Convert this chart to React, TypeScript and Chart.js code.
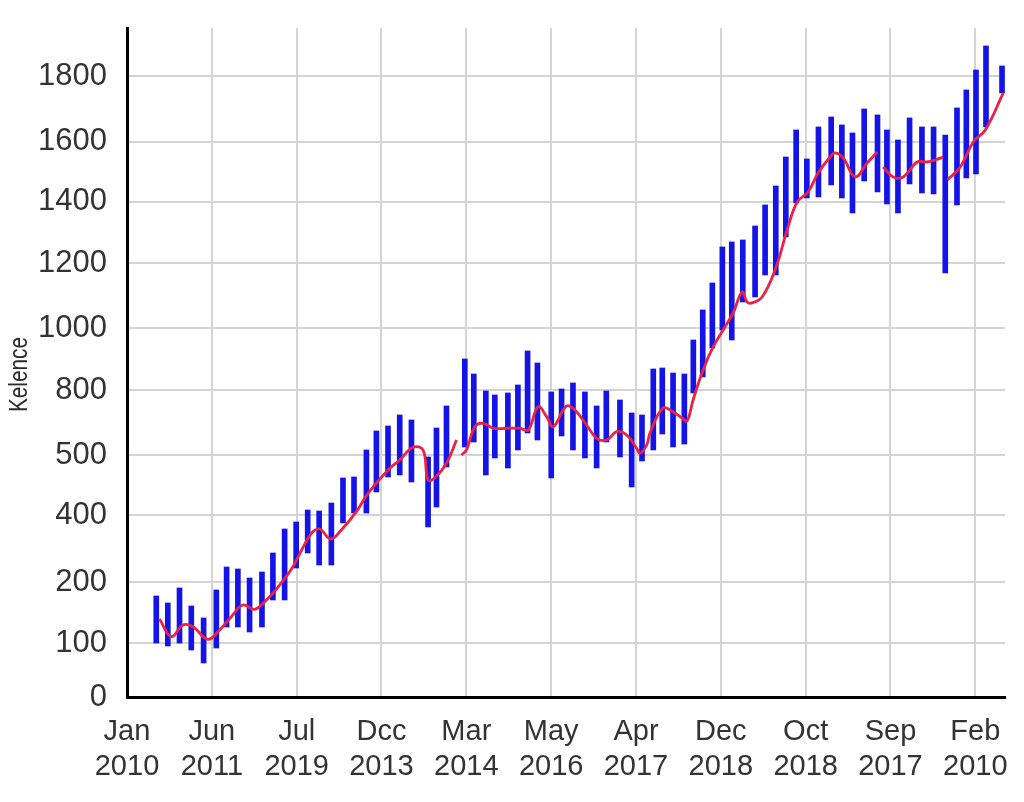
import React, { useEffect, useRef } from "react";
import { Chart, registerables } from "chart.js";

Chart.register(...registerables);

// X axis: tick positions (category index units) and their two-line labels
const xTickValues = [0, 1, 2, 3, 4, 5, 6, 7, 8, 9, 10];
const xTickLabels = [
  ["Jan", "2010"],
  ["Jun", "2011"],
  ["Jul", "2019"],
  ["Dcc", "2013"],
  ["Mar", "2014"],
  ["May", "2016"],
  ["Apr", "2017"],
  ["Dec", "2018"],
  ["Oct", "2018"],
  ["Sep", "2017"],
  ["Feb", "2010"],
];
const xMax = 10.35;

// Y axis: gridline positions (value units) and their printed labels
const yTickValues = [0, 156.5, 333.3, 527.5, 701.5, 889.9, 1069.6, 1258, 1435.7, 1609.6, 1800];
const yTickLabels = ["0", "100", "200", "400", "500", "800", "1000", "1200", "1400", "1600", "1800"];
const yMax = 1939;

// Range bars (blue): position, low, high
const barX = [
  0.345, 0.481, 0.619, 0.758, 0.903, 1.053, 1.174, 1.307, 1.445, 1.591,
  1.72, 1.858, 1.994, 2.13, 2.265, 2.409, 2.546, 2.676, 2.822, 2.94,
  3.077, 3.215, 3.353, 3.549, 3.648, 3.766, 3.982, 4.088, 4.23, 4.336,
  4.49, 4.608, 4.722, 4.838, 5.001, 5.123, 5.257, 5.398, 5.536, 5.65,
  5.811, 5.949, 6.071, 6.204, 6.31, 6.437, 6.57, 6.676, 6.787, 6.9,
  7.018, 7.129, 7.259, 7.404, 7.522, 7.648, 7.766, 7.888, 8.014, 8.151,
  8.301, 8.427, 8.552, 8.69, 8.847, 8.958, 9.088, 9.225, 9.371, 9.508,
  9.646, 9.784, 9.894, 10.008, 10.126, 10.315,
];
const barLow = [
  156.5, 147.8, 156.5, 136.2, 98.6, 142, 202.9, 202.9, 188.4, 202.9,
  281.2, 281.2, 373.9, 417.4, 382.6, 382.6, 504.4, 533.3, 533.3, 594.2,
  637.7, 643.5, 623.2, 492.8, 550.7, 666.7, 724.7, 739.1, 643.5, 692.8,
  663.8, 716, 765.2, 744.9, 634.8, 756.5, 716, 692.8, 663.8, 739.1,
  695.7, 608.7, 684.1, 716, 762.3, 724.7, 733.3, 881.2, 927.6, 1011.6,
  1063.8, 1034.8, 1144.9, 1159.4, 1223.2, 1223.2, 1333.4, 1431.9, 1446.4, 1449.3,
  1484.1, 1446.4, 1402.9, 1495.7, 1463.8, 1429, 1402.9, 1487, 1460.9, 1458,
  1229, 1426.1, 1504.4, 1516, 1652.2, 1750.8,
];
const barHigh = [
  292.8, 272.5, 316, 263.8, 229, 310.2, 376.8, 371, 344.9, 362.3,
  417.4, 487, 507.3, 542, 539.1, 562.3, 634.8, 637.7, 716, 771,
  785.5, 817.4, 802.9, 695.7, 779.7, 843.5, 979.7, 936.2, 887, 875.4,
  881.2, 904.4, 1002.9, 968.1, 884.1, 892.8, 910.2, 884.1, 843.5, 887,
  860.9, 823.2, 817.4, 950.7, 953.6, 939.1, 936.2, 1034.8, 1121.8, 1200,
  1304.4, 1318.9, 1324.7, 1365.2, 1426.1, 1481.2, 1565.2, 1643.5, 1559.5, 1652.2,
  1681.2, 1658, 1634.8, 1704.4, 1687, 1643.5, 1614.5, 1678.3, 1652.2, 1652.2,
  1629, 1707.3, 1759.5, 1817.4, 1887, 1829,
];

// Moving-average line (red); null = break in the line
const lineX = [
  0.383, 0.522, 0.658, 0.776, 0.953, 1.091, 1.229, 1.366, 1.504, 1.643,
  1.799, 1.956, 2.071, 2.177, 2.271, 2.401, 2.527, 2.704, 2.841, 3.077,
  3.215, 3.372, 3.49, 3.549, 3.628, 3.766, 3.884, 3.92, 3.943, 4.002,
  4.1, 4.198, 4.316, 4.474, 4.631, 4.729, 4.847, 4.946, 5.024, 5.182,
  5.28, 5.418, 5.536, 5.654, 5.772, 5.89, 6.008, 6.047, 6.126, 6.165,
  6.319, 6.437, 6.543, 6.602, 6.673, 6.791, 6.909, 7.027, 7.145, 7.251,
  7.31, 7.369, 7.487, 7.64, 7.782, 7.9, 8.029, 8.147, 8.289, 8.348,
  8.442, 8.584, 8.726, 8.844, 8.88, 8.914, 9.032, 9.15, 9.316, 9.434,
  9.528, 9.622, 9.64, 9.67, 9.823, 9.976, 10.118, 10.33,
];
const lineY = [
  226.1, 174.8, 208.7, 203.8, 167.2, 194.2, 232.8, 266.7, 254.2, 281.2,
  324.6, 377.7, 431.9, 475.4, 487, 458, 484.1, 537.1, 590.4, 658,
  687, 723.8, 716, 629, 634.8, 677.4, 744.9, null, 701.5, 716,
  783.5, 793.3, 778.9, 778.9, 778.9, 773.9, 841.5, 812.5, 783.5, 843.5,
  831.9, 788.4, 749.9, 744.9, 769, 759.4, 720.9, 706.4, 730.4, 765.2,
  837.7, 826.1, 808.7, 800, 860.9, 947.8, 1014.5, 1063.8, 1113.1, 1173.9,
  1144.9, 1142.1, 1159.4, 1237.7, 1353.6, 1434.8, 1463.8, 1518.9, 1565.2, 1576.8,
  1562.3, 1507.3, 1547.9, 1579.7, null, 1536.3, 1507.3, 1507.3, 1550.8, 1550.8,
  1556.5, 1565.2, null, 1498.6, 1536.3, 1608.7, 1643.5, 1750.8,
];

const yTitle = "Kelence";

export default function App() {
  const ref = useRef<HTMLCanvasElement | null>(null);

  useEffect(() => {
    if (!ref.current) return;
    const font = "'Liberation Sans', Arial, sans-serif";
    const yTitlePlugin = {
      id: "yTitle",
      afterDraw(c: any) {
        const { ctx, chartArea } = c;
        ctx.save();
        ctx.translate(chartArea.left - 107, (chartArea.top + chartArea.bottom) / 2 + 12);
        ctx.rotate(-Math.PI / 2);
        ctx.scale(0.8, 1);
        ctx.textAlign = "center";
        ctx.textBaseline = "middle";
        ctx.fillStyle = "#2a2a2a";
        ctx.font = `26px ${font}`;
        ctx.fillText(yTitle, 0, 0);
        ctx.restore();
      },
    };
    const chart = new Chart(ref.current, {
      type: "bar",
      data: {
        datasets: [
          {
            type: "line",
            label: "average",
            data: lineX.map((x, i) => ({ x, y: lineY[i] })),
            borderColor: "#ec2145",
            borderWidth: 2.8,
            pointRadius: 0,
            tension: 0.4,
            spanGaps: false,
            order: 0,
          } as any,
          {
            type: "bar",
            label: "range",
            data: barX.map((x, i) => ({ x, y: [barLow[i], barHigh[i]] })),
            backgroundColor: "#1414e6",
            borderWidth: 0,
            barThickness: 5,
            grouped: false,
            order: 1,
          } as any,
        ],
      },
      plugins: [yTitlePlugin],
      options: {
        responsive: false,
        animation: false,
        layout: { padding: { top: 28, right: 19, left: 0, bottom: 0 } },
        plugins: {
          legend: { display: false },
          tooltip: { enabled: false },
        },
        scales: {
          x: {
            type: "linear",
            min: 0,
            max: xMax,
            offset: false,
            afterBuildTicks: (scale: any) => {
              scale.ticks = xTickValues.map((v) => ({ value: v }));
            },
            afterFit: (scale: any) => {
              scale.height = 105;
              scale.paddingLeft = 0;
              scale.paddingRight = 0;
            },
            grid: {
              color: "#d4d4d4",
              lineWidth: 2,
              drawTicks: false,
              offset: false,
            },
            border: { display: true, color: "#000", width: 3 },
            ticks: {
              padding: 18,
              autoSkip: false,
              maxRotation: 0,
              color: "#333",
              font: { family: font, size: 29 },
              callback: (_v: any, i: number) => xTickLabels[i],
            },
          },
          y: {
            type: "linear",
            min: 0,
            max: yMax,
            afterBuildTicks: (scale: any) => {
              scale.ticks = yTickValues.map((v) => ({ value: v }));
            },
            afterFit: (scale: any) => {
              scale.width = 127;
              scale.paddingTop = 0;
              scale.paddingBottom = 0;
            },
            grid: { color: "#d4d4d4", lineWidth: 2, drawTicks: false },
            border: { display: true, color: "#000", width: 3 },
            ticks: {
              padding: 20,
              color: "#333",
              font: { family: font, size: 31 },
              callback: (_v: any, i: number) => yTickLabels[i],
            },
          },
        },
      },
    });
    return () => chart.destroy();
  }, []);

  return (
    <div style={{ position: "fixed", left: 0, top: 0, width: 1024, height: 802, background: "#fff" }}>
      <canvas ref={ref} width={1024} height={802} style={{ display: "block" }} />
    </div>
  );
}
